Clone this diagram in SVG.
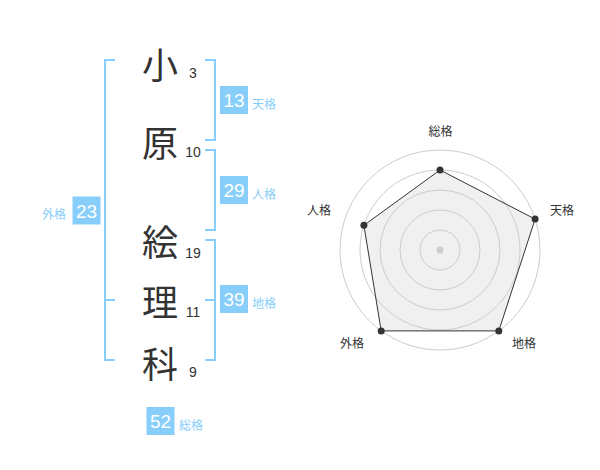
<svg xmlns="http://www.w3.org/2000/svg" width="600" height="470" viewBox="0 0 600 470">
<style>
.kanji{font-family:"Noto Sans CJK JP","Noto Sans CJK SC",sans-serif;font-size:36px;fill:#333;text-anchor:middle;dominant-baseline:central}
.stroke{font-family:"Liberation Sans",Arial,sans-serif;font-size:14px;fill:#333;text-anchor:middle}
.br{fill:none;stroke:#87cefa;stroke-width:2}
.box{fill:#87cefa}
.bn{font-family:"Liberation Sans",Arial,sans-serif;font-size:19px;fill:#fff;text-anchor:middle}
.lbl{font-family:"Noto Sans CJK JP","Noto Sans CJK SC",sans-serif;font-size:12px;fill:#87cefa}
.grid{fill:none;stroke:#ccc;stroke-width:1}
.axl{font-family:"Noto Sans CJK JP","Noto Sans CJK SC",sans-serif;font-size:12px;fill:#333;text-anchor:middle;dominant-baseline:central}
</style>
<rect width="600" height="470" fill="#fff"/>
<g id="connectors">
<path class="br" d="M115,60 H105 V360 H115 M105,300 H115"/>
<path class="br" d="M205,60 H215 V140 H205"/>
<path class="br" d="M205,150 H215 V230 H205"/>
<path class="br" d="M205,240 H215 V360 H205 M205,300 H215"/>
</g>
<g id="char1"><text class="kanji" x="160" y="63">小</text><text class="stroke" x="193" y="77.5">3</text></g>
<g id="char2"><text class="kanji" x="160" y="141">原</text><text class="stroke" x="193" y="157">10</text></g>
<g id="char3"><text class="kanji" x="160" y="240">絵</text><text class="stroke" x="193" y="257.5">19</text></g>
<g id="char4"><text class="kanji" x="160" y="300">理</text><text class="stroke" x="193" y="316.5">11</text></g>
<g id="char5"><text class="kanji" x="160" y="361.5">科</text><text class="stroke" x="193" y="377">9</text></g>
<g id="tenkaku"><rect class="box" x="220" y="86" width="28" height="28"/><text class="bn" x="234" y="107">13</text><text class="lbl" x="252" y="108.5">天格</text></g>
<g id="jinkaku"><rect class="box" x="220" y="176" width="28" height="28"/><text class="bn" x="234" y="197">29</text><text class="lbl" x="252" y="198.5">人格</text></g>
<g id="chikaku"><rect class="box" x="220" y="285" width="28" height="28"/><text class="bn" x="234" y="306">39</text><text class="lbl" x="252" y="307.5">地格</text></g>
<g id="gaikaku"><rect class="box" x="72.5" y="196.5" width="28" height="28"/><text class="bn" x="86.5" y="217.5">23</text><text class="lbl" x="66" y="219" text-anchor="end">外格</text></g>
<g id="soukaku"><rect class="box" x="146.5" y="407" width="28" height="28"/><text class="bn" x="160.5" y="428">52</text><text class="lbl" x="179" y="429.5">総格</text></g>
<g id="radar">
<polygon points="440,170 535.1,219.1 498.8,330.9 381.2,330.9 363.9,225.3" fill="#f0f0f0" stroke="none"/>
<circle class="grid" cx="440" cy="250" r="20"/>
<circle class="grid" cx="440" cy="250" r="40"/>
<circle class="grid" cx="440" cy="250" r="60"/>
<circle class="grid" cx="440" cy="250" r="80"/>
<circle class="grid" cx="440" cy="250" r="100"/>
<circle cx="440" cy="250" r="3.5" fill="#ccc"/>
<polygon points="440,170 535.1,219.1 498.8,330.9 381.2,330.9 363.9,225.3" fill="none" stroke="#333" stroke-width="1"/>
<g fill="#333">
<circle cx="440" cy="170" r="3.5"/>
<circle cx="535.1" cy="219.1" r="3.5"/>
<circle cx="498.8" cy="330.9" r="3.5"/>
<circle cx="381.2" cy="330.9" r="3.5"/>
<circle cx="363.9" cy="225.3" r="3.5"/>
</g>
<text class="axl" x="440.5" y="130.5">総格</text>
<text class="axl" x="562" y="209">天格</text>
<text class="axl" x="319" y="209">人格</text>
<text class="axl" x="352" y="342">外格</text>
<text class="axl" x="524" y="342">地格</text>
</g>
</svg>
